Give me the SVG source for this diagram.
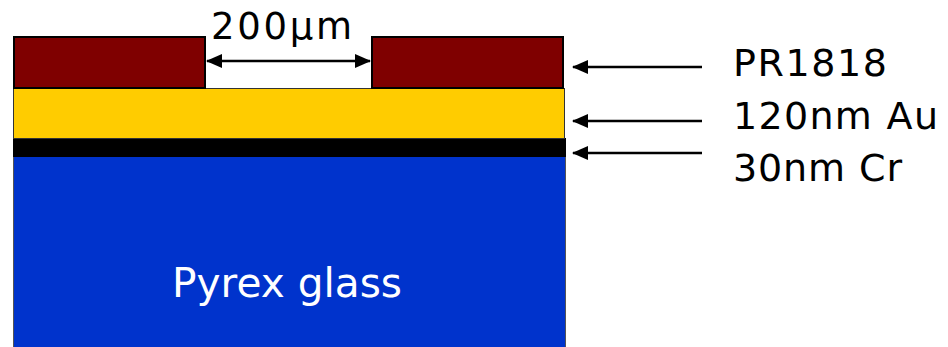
<svg xmlns="http://www.w3.org/2000/svg" width="948" height="347" viewBox="0 0 948 347">
  <style>
    .lbl { font-family: "DejaVu Sans", "Liberation Sans", sans-serif; fill: #000; }
    .conn line { stroke: #000; stroke-width: 2.5; }
  </style>
  <defs>
    <marker id="head" viewBox="0 0 16 14" refX="15" refY="7" markerWidth="16" markerHeight="14" markerUnits="userSpaceOnUse" orient="auto-start-reverse">
      <path d="M0,0 L16,7 L0,14 Z" fill="#000"/>
    </marker>
  </defs>
  <rect width="948" height="347" fill="#fff"/>

  <!-- substrate -->
  <g id="glass">
    <rect x="13.5" y="156.5" width="552" height="200" fill="#0033CC" stroke="#555" stroke-width="1"/>
    <text class="lbl" x="172" y="297" font-size="40" style="fill:#fff" textLength="230" lengthAdjust="spacingAndGlyphs">Pyrex glass</text>
  </g>

  <!-- chromium adhesion layer -->
  <g id="cr">
    <rect x="13" y="138" width="553" height="19" fill="#000"/>
  </g>

  <!-- gold layer -->
  <g id="au">
    <rect x="13.5" y="88.5" width="551" height="50" fill="#FFCC00" stroke="#333" stroke-width="1"/>
  </g>

  <!-- patterned photoresist -->
  <g id="pr-left">
    <rect x="14" y="37" width="191" height="51" fill="#7F0000" stroke="#000" stroke-width="2"/>
  </g>
  <g id="pr-right">
    <rect x="372" y="37" width="191" height="51" fill="#7F0000" stroke="#000" stroke-width="2"/>
  </g>

  <g id="dim-label">
    <text class="lbl" x="211" y="39" font-size="37" textLength="141">200μm</text>
  </g>

  <g id="labels">
    <text class="lbl" x="733" y="76" font-size="38" textLength="154">PR1818</text>
    <text class="lbl" x="733" y="129" font-size="38" textLength="205">120nm Au</text>
    <text class="lbl" x="733" y="181" font-size="38" textLength="169">30nm Cr</text>
  </g>

  <g class="conn" id="connectors">
    <line x1="207" y1="61" x2="370" y2="61" marker-start="url(#head)" marker-end="url(#head)"/>
    <line x1="702" y1="67" x2="573" y2="67" marker-end="url(#head)"/>
    <line x1="702" y1="121" x2="573" y2="121" marker-end="url(#head)"/>
    <line x1="702" y1="153" x2="573" y2="153" marker-end="url(#head)"/>
  </g>
</svg>
